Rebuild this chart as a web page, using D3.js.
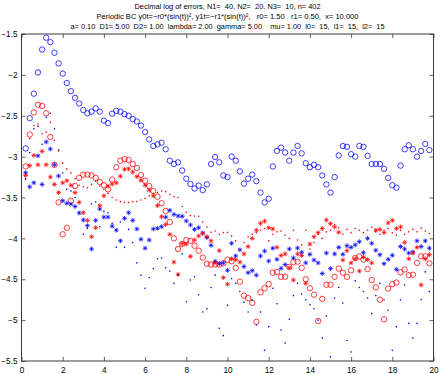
<!DOCTYPE html>
<html>
<head>
<meta charset="utf-8">
<script src="https://cdn.jsdelivr.net/npm/d3@7"></script>
<style>
  body { margin: 0; background: #fff; }
  svg { display: block; font-family: "Liberation Sans", Arial, sans-serif; }
  .title { white-space: pre; }
</style>
</head>
<body>
<div id="chart"></div>
<script>
// sample grid: x = 0.2, 0.4, ... 19.8
var xGrid = d3.range(1, 100).map(function(k) { return +(k * 0.2).toFixed(1); });

var titleLines = [
  "Decimal log of errors, N1=  40, N2=  20, N3=  10, n= 402",
  "Periodic BC y0t=\u2212r0*(sin(t))\u00b2, y1t=\u2212r1*(sin(t))\u00b2,   r0= 1.50   r1= 0.50,  x= 10.000",
  "a= 0.10  D1= 5.00  D2= 1.00  lambda= 2.00  gamma= 5.00    mu= 1.00  l0=  15,  l1=  15,  l2=  15"
];
var xTicks = [0, 2, 4, 6, 8, 10, 12, 14, 16, 18, 20];
var yTicks = [-1.5, -2, -2.5, -3, -3.5, -4, -4.5, -5, -5.5];

var blueCircles = [-2.90,-2.53,-2.23,-1.97,-1.69,-1.545,-1.60,-1.73,-1.86,-1.985,
  -2.10,-2.20,-2.28,-2.35,-2.43,-2.47,-2.45,-2.41,-2.45,-2.56,
  -2.59,-2.475,-2.44,-2.45,-2.48,-2.50,-2.54,-2.57,-2.62,-2.70,
  -2.79,-2.87,-2.85,-2.83,-2.91,-3.05,-3.09,-3.07,-3.17,-3.27,
  -3.335,-3.39,-3.355,-3.41,-3.34,-3.09,-3.005,-3.07,-3.23,-3.25,
  -3.00,-3.05,-3.18,-3.33,-3.27,-3.22,-3.30,-3.44,-3.56,-3.515,
  -3.12,-2.93,-2.89,-2.95,-3.05,-2.95,-2.87,-2.96,-3.08,-3.13,
  -3.10,-3.13,-3.23,-3.34,-3.44,-3.25,-2.985,-2.87,-2.88,-2.97,
  -3.00,-2.87,-2.88,-2.99,-3.09,-3.09,-3.09,-3.15,-3.26,-3.35,
  -3.38,-3.11,-2.91,-2.86,-2.91,-3.00,-2.93,-2.845,-2.92];

var redCircles = [-3.12,-2.73,-2.46,-2.365,-2.38,-2.47,-2.76,-3.10,-3.56,-3.95,
  -3.87,-3.54,-3.36,-3.26,-3.22,-3.22,-3.23,-3.26,-3.31,-3.35,
  -3.40,-3.28,-3.13,-3.05,-3.03,-3.04,-3.09,-3.14,-3.225,-3.295,
  -3.36,-3.42,-3.49,-3.57,-3.665,-3.80,-4.00,-4.13,-4.07,-4.02,
  -4.03,-4.09,-4.15,-4.235,-4.31,-4.32,-4.32,-4.32,-4.305,-4.26,
  -4.28,-4.36,-4.53,-4.70,-4.73,-4.79,-5.02,-4.66,-4.61,-4.56,
  -4.42,-4.41,-4.47,-4.47,-4.35,-4.29,-4.285,-4.36,-4.50,-4.61,
  -4.69,-5.01,-4.74,-4.567,-4.567,-4.47,-4.37,-4.42,-4.47,-4.39,
  -4.24,-4.22,-4.26,-4.375,-4.51,-4.60,-4.75,-4.99,-4.615,-4.56,
  -4.54,-4.415,-4.38,-4.45,-4.445,-4.30,-4.22,-4.22,-4.305];

var blueStars = [-3.197,-3.37,-3.32,-2.99,-3.34,-2.82,-2.907,-3.10,-3.237,-3.54,
  -3.57,-3.58,-3.61,-3.69,-3.775,-3.845,-4.13,-3.78,-3.64,-3.74,
  -3.74,-3.85,-3.90,-4.03,-3.755,-3.686,-3.78,-3.885,-4.01,-4.12,
  -4.02,-3.885,-3.877,-3.857,-3.74,-3.657,-3.706,-3.726,-3.73,-3.787,
  -3.836,-3.89,-3.87,-3.934,-3.99,-4.085,-4.28,-4.31,-4.30,-4.39,
  -4.06,-4.215,-4.14,-4.345,-4.42,-4.395,-4.45,-4.215,-4.155,-4.277,
  -4.12,-4.256,-4.366,-4.32,-4.13,-4.24,-4.118,-4.17,-4.30,-4.195,
  -4.265,-4.30,-4.43,-4.18,-4.37,-4.19,-4.11,-4.195,-4.09,-4.11,
  -4.08,-4.04,-4.175,-4.00,-4.06,-4.145,-4.20,-4.31,-4.256,-4.207,
  -4.38,-4.10,-4.13,-4.18,-4.167,-4.03,-4.10,-4.03,-4.12];

var redStars = [-3.23,-3.11,-2.985,-3.10,-2.935,-3.10,-3.25,-3.34,-3.44,-3.32,
  -3.295,-3.35,-3.44,-3.56,-3.686,-3.78,-3.98,-3.87,-3.60,-3.48,
  -3.36,-3.335,-3.32,-3.24,-3.155,-3.15,-3.19,-3.245,-3.29,-3.35,
  -3.41,-3.48,-3.60,-3.735,-3.83,-3.95,-4.29,-4.44,-4.065,-4.07,
  -4.22,-4.02,-3.97,-3.94,-3.98,-4.03,-4.30,-4.15,-4.48,-4.56,
  -4.25,-4.26,-4.29,-4.19,-4.10,-4.00,-3.90,-3.815,-3.79,-3.87,
  -3.885,-4.11,-4.21,-4.19,-4.36,-4.51,-4.19,-4.21,-4.55,-4.07,
  -3.98,-3.93,-3.88,-3.775,-3.82,-3.86,-3.925,-4.265,-4.15,-4.30,
  -4.25,-4.40,-4.23,-4.26,-4.30,-3.90,-3.89,-3.93,-3.81,-3.78,
  -3.88,-3.86,-4.05,-4.25,-4.18,-4.11,-4.57,-4.25,-4.20];

var blueDots = [-3.27,-2.95,-2.66,-2.63,-2.85,-2.52,-2.47,-2.66,-2.92,-3.20,
  -3.40,-3.42,-3.50,-3.68,-3.95,-3.88,-3.58,-3.555,-3.857,-3.67,
  -3.686,-3.815,-4.11,-3.80,-4.11,-3.89,-4.05,-4.30,-4.45,-4.61,
  -4.48,-4.37,-4.25,-4.24,-4.36,-4.40,-4.55,-4.45,-4.19,-4.775,
  -4.51,-4.47,-4.69,-4.90,-4.86,-4.60,-4.45,-5.10,-5.19,-4.82,
  -4.49,-4.55,-4.65,-4.78,-4.90,-4.75,-5.06,-4.90,-5.37,-5.08,
  -4.61,-4.80,-5.12,-5.28,-4.99,-4.70,-4.55,-4.68,-4.75,-4.81,
  -4.86,-5.00,-5.22,-4.95,-5.45,-4.73,-4.60,-4.79,-5.25,-5.39,
  -4.52,-4.60,-4.65,-4.73,-4.92,-4.70,-4.55,-4.75,-4.88,-5.37,
  -5.08,-4.75,-4.57,-5.04,-5.22,-5.04,-4.75,-4.41,-4.65];

var redDots = [-3.28,-2.78,-2.62,-2.60,-2.72,-2.70,-2.58,-2.80,-2.93,-3.08,
  -3.15,-3.20,-3.27,-3.35,-3.37,-3.38,-3.34,-3.30,-3.36,-3.40,
  -3.45,-3.50,-3.53,-3.55,-3.56,-3.56,-3.55,-3.55,-3.53,-3.51,
  -3.48,-3.45,-3.44,-3.42,-3.43,-3.46,-3.49,-3.50,-3.61,-3.68,
  -3.72,-3.726,-3.73,-3.80,-3.86,-3.925,-3.91,-3.95,-3.93,-3.925,
  -3.97,-4.03,-4.14,-4.05,-3.98,-3.95,-3.93,-3.90,-3.88,-4.03,
  -3.95,-3.92,-3.91,-3.96,-4.00,-3.90,-4.02,-4.08,-3.90,-4.13,
  -4.05,-3.95,-4.00,-3.92,-3.90,-3.83,-3.87,-3.95,-3.89,-3.93,
  -3.88,-3.90,-3.93,-3.90,-3.865,-3.92,-3.95,-3.90,-3.88,-3.93,
  -3.96,-3.90,-3.95,-3.92,-3.89,-3.92,-3.875,-3.91,-3.94];

var W = 443, H = 374;
var box = {left: 21.5, top: 34, right: 433.5, bottom: 361};

var svg = d3.select("#chart").append("svg")
  .attr("width", W)
  .attr("height", H);

var x = d3.scaleLinear().domain([0, 20]).range([box.left, box.right]);
var y = d3.scaleLinear().domain([-5.5, -1.5]).range([box.bottom, box.top]);

// title, three centred lines (spaces kept as in the original)
var titleWidths = [186, 262, 314];
svg.selectAll("text.title")
  .data(titleLines)
  .enter()
  .append("text")
  .attr("class", "title")
  .attr("xml:space", "preserve")
  .attr("x", (box.left + box.right) / 2)
  .attr("y", function(d, i) { return 8.5 + i * 10.2; })
  .attr("text-anchor", "middle")
  .attr("font-size", "7.6px")
  .attr("textLength", function(d, i) { return titleWidths[i]; })
  .attr("lengthAdjust", "spacingAndGlyphs")
  .attr("fill", "#000")
  .text(function(d) { return d; });

// axes, matlab style: ticks inside on all four sides
var tickLen = 4;
var axisColor = "#3a3a3a";

var xAxisB = d3.axisBottom(x).tickValues(xTicks).tickSizeInner(-tickLen).tickSizeOuter(0).tickPadding(6);
var xAxisT = d3.axisTop(x).tickValues(xTicks).tickSizeInner(-tickLen).tickSizeOuter(0).tickFormat("");
var yAxisL = d3.axisLeft(y).tickValues(yTicks).tickSizeInner(-tickLen).tickSizeOuter(0).tickPadding(4)
  .tickFormat(function(d) { return String(d).replace("-", "\u2212"); });
var yAxisR = d3.axisRight(y).tickValues(yTicks).tickSizeInner(-tickLen).tickSizeOuter(0).tickFormat("");

function styleAxis(g) {
  g.select(".domain").remove();
  g.selectAll("line").attr("stroke", axisColor).attr("stroke-width", 0.8);
  g.selectAll("text").attr("font-size", "8.2px").attr("fill", "#000")
    .attr("font-family", "'Liberation Sans', Arial, sans-serif");
}

svg.append("g").attr("transform", "translate(0," + box.bottom + ")").call(xAxisB).call(styleAxis);
svg.append("g").attr("transform", "translate(0," + box.top + ")").call(xAxisT).call(styleAxis);
svg.append("g").attr("transform", "translate(" + box.left + ",0)").call(yAxisL).call(styleAxis);
svg.append("g").attr("transform", "translate(" + box.right + ",0)").call(yAxisR).call(styleAxis);

svg.append("rect")
  .attr("x", box.left)
  .attr("y", box.top)
  .attr("width", box.right - box.left)
  .attr("height", box.bottom - box.top)
  .attr("fill", "none")
  .attr("stroke", axisColor)
  .attr("stroke-width", 1);

var plot = svg.append("g");

function pairs(vals) {
  return vals.map(function(v, i) { return [xGrid[i], v]; });
}

// circles
function drawCircles(vals, color) {
  plot.append("g").selectAll("circle")
    .data(pairs(vals))
    .enter()
    .append("circle")
    .attr("cx", function(d) { return x(d[0]); })
    .attr("cy", function(d) { return y(d[1]); })
    .attr("r", 2.7)
    .attr("fill", "none")
    .attr("stroke", color)
    .attr("stroke-width", 0.75);
}

// asterisk marker: + and x on top of each other
var s = 2.4, t = 1.7;
var starPath = "M" + (-s) + ",0H" + s + "M0," + (-s) + "V" + s +
  "M" + (-t) + "," + (-t) + "L" + t + "," + t + "M" + (-t) + "," + t + "L" + t + "," + (-t);

function drawStars(vals, color) {
  plot.append("g").selectAll("path")
    .data(pairs(vals))
    .enter()
    .append("path")
    .attr("d", starPath)
    .attr("transform", function(d) { return "translate(" + x(d[0]) + "," + y(d[1]) + ")"; })
    .attr("fill", "none")
    .attr("stroke", color)
    .attr("stroke-width", 0.9)
    .attr("opacity", 0.85);
}

function drawDots(vals, color) {
  plot.append("g").selectAll("circle")
    .data(pairs(vals))
    .enter()
    .append("circle")
    .attr("cx", function(d) { return x(d[0]); })
    .attr("cy", function(d) { return y(d[1]); })
    .attr("r", 0.8)
    .attr("fill", color);
}

drawCircles(blueCircles, "#0000ff");
drawCircles(redCircles, "#ff0000");
drawStars(blueStars, "#0000ff");
drawStars(redStars, "#ff0000");
drawDots(blueDots, "#0000ff");
drawDots(redDots, "#ff0000");
</script>
</body>
</html>
